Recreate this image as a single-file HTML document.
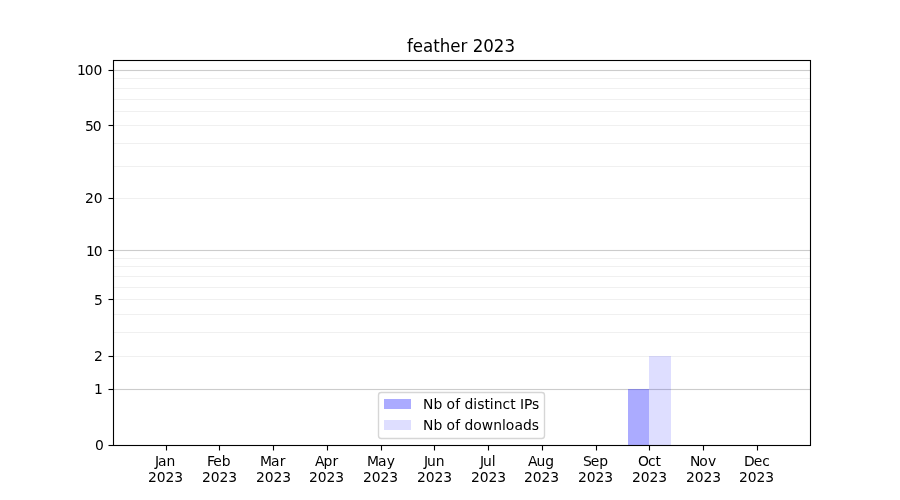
<!DOCTYPE html>
<html lang="en"><head><meta charset="utf-8"><title>feather 2023</title>
<style>
html,body{margin:0;padding:0;background:#fff;}
body{width:900px;height:500px;overflow:hidden;}
svg{display:block;will-change:transform;}
text{font-family:'DejaVu Sans', 'Liberation Sans', sans-serif;fill:#000;}
.t10{font-size:13.889px;}
.t12{font-size:16.667px;}
.crisp{shape-rendering:crispEdges;}
</style></head><body>
<svg width="900" height="500" viewBox="0 0 900 500">
<rect x="0" y="0" width="900" height="500" fill="#ffffff"/>
<g class="crisp">
<rect x="113" y="69" width="697" height="3" fill="#fcfcfc"/>
<rect x="113" y="249" width="697" height="3" fill="#fcfcfc"/>
<rect x="113" y="388" width="697" height="3" fill="#fcfcfc"/>
<rect x="113" y="78" width="697" height="1" fill="#f0f0f0"/>
<rect x="113" y="88" width="697" height="1" fill="#f0f0f0"/>
<rect x="113" y="99" width="697" height="1" fill="#f0f0f0"/>
<rect x="113" y="111" width="697" height="1" fill="#f0f0f0"/>
<rect x="113" y="125" width="697" height="1" fill="#f0f0f0"/>
<rect x="113" y="143" width="697" height="1" fill="#f0f0f0"/>
<rect x="113" y="166" width="697" height="1" fill="#f0f0f0"/>
<rect x="113" y="198" width="697" height="1" fill="#f0f0f0"/>
<rect x="113" y="258" width="697" height="1" fill="#f0f0f0"/>
<rect x="113" y="266" width="697" height="1" fill="#f0f0f0"/>
<rect x="113" y="276" width="697" height="1" fill="#f0f0f0"/>
<rect x="113" y="287" width="697" height="1" fill="#f0f0f0"/>
<rect x="113" y="299" width="697" height="1" fill="#f0f0f0"/>
<rect x="113" y="314" width="697" height="1" fill="#f0f0f0"/>
<rect x="113" y="332" width="697" height="1" fill="#f0f0f0"/>
<rect x="113" y="356" width="697" height="1" fill="#f0f0f0"/>
<rect x="113" y="70" width="697" height="1" fill="#cccccc"/>
<rect x="113" y="250" width="697" height="1" fill="#cccccc"/>
<rect x="113" y="389" width="697" height="1" fill="#cccccc"/>
</g>
<g class="crisp">
<rect x="628" y="389" width="21" height="56" fill="#0000ff" fill-opacity="0.33"/>
<rect x="649" y="356" width="22" height="89" fill="#0000ff" fill-opacity="0.13"/>
</g>
<g class="crisp" fill="#000000">
<rect x="165" y="446" width="3" height="4" fill="#f1f1f1"/>
<rect x="165" y="450" width="3" height="1" fill="#f8f8f8"/>
<rect x="166" y="446" width="1" height="4" fill="#000"/>
<rect x="166" y="450" width="1" height="1" fill="#7f7f7f"/>
<rect x="218" y="446" width="3" height="4" fill="#f1f1f1"/>
<rect x="218" y="450" width="3" height="1" fill="#f8f8f8"/>
<rect x="219" y="446" width="1" height="4" fill="#000"/>
<rect x="219" y="450" width="1" height="1" fill="#7f7f7f"/>
<rect x="272" y="446" width="3" height="4" fill="#f1f1f1"/>
<rect x="272" y="450" width="3" height="1" fill="#f8f8f8"/>
<rect x="273" y="446" width="1" height="4" fill="#000"/>
<rect x="273" y="450" width="1" height="1" fill="#7f7f7f"/>
<rect x="326" y="446" width="3" height="4" fill="#f1f1f1"/>
<rect x="326" y="450" width="3" height="1" fill="#f8f8f8"/>
<rect x="327" y="446" width="1" height="4" fill="#000"/>
<rect x="327" y="450" width="1" height="1" fill="#7f7f7f"/>
<rect x="380" y="446" width="3" height="4" fill="#f1f1f1"/>
<rect x="380" y="450" width="3" height="1" fill="#f8f8f8"/>
<rect x="381" y="446" width="1" height="4" fill="#000"/>
<rect x="381" y="450" width="1" height="1" fill="#7f7f7f"/>
<rect x="433" y="446" width="3" height="4" fill="#f1f1f1"/>
<rect x="433" y="450" width="3" height="1" fill="#f8f8f8"/>
<rect x="434" y="446" width="1" height="4" fill="#000"/>
<rect x="434" y="450" width="1" height="1" fill="#7f7f7f"/>
<rect x="487" y="446" width="3" height="4" fill="#f1f1f1"/>
<rect x="487" y="450" width="3" height="1" fill="#f8f8f8"/>
<rect x="488" y="446" width="1" height="4" fill="#000"/>
<rect x="488" y="450" width="1" height="1" fill="#7f7f7f"/>
<rect x="541" y="446" width="3" height="4" fill="#f1f1f1"/>
<rect x="541" y="450" width="3" height="1" fill="#f8f8f8"/>
<rect x="542" y="446" width="1" height="4" fill="#000"/>
<rect x="542" y="450" width="1" height="1" fill="#7f7f7f"/>
<rect x="595" y="446" width="3" height="4" fill="#f1f1f1"/>
<rect x="595" y="450" width="3" height="1" fill="#f8f8f8"/>
<rect x="596" y="446" width="1" height="4" fill="#000"/>
<rect x="596" y="450" width="1" height="1" fill="#7f7f7f"/>
<rect x="648" y="446" width="3" height="4" fill="#f1f1f1"/>
<rect x="648" y="450" width="3" height="1" fill="#f8f8f8"/>
<rect x="649" y="446" width="1" height="4" fill="#000"/>
<rect x="649" y="450" width="1" height="1" fill="#7f7f7f"/>
<rect x="702" y="446" width="3" height="4" fill="#f1f1f1"/>
<rect x="702" y="450" width="3" height="1" fill="#f8f8f8"/>
<rect x="703" y="446" width="1" height="4" fill="#000"/>
<rect x="703" y="450" width="1" height="1" fill="#7f7f7f"/>
<rect x="756" y="446" width="3" height="4" fill="#f1f1f1"/>
<rect x="756" y="450" width="3" height="1" fill="#f8f8f8"/>
<rect x="757" y="446" width="1" height="4" fill="#000"/>
<rect x="757" y="450" width="1" height="1" fill="#7f7f7f"/>
<rect x="109" y="444" width="4" height="3" fill="#f1f1f1"/>
<rect x="108" y="444" width="1" height="3" fill="#f8f8f8"/>
<rect x="109" y="445" width="4" height="1" fill="#000"/>
<rect x="108" y="445" width="1" height="1" fill="#7f7f7f"/>
<rect x="109" y="388" width="4" height="3" fill="#f1f1f1"/>
<rect x="108" y="388" width="1" height="3" fill="#f8f8f8"/>
<rect x="109" y="389" width="4" height="1" fill="#000"/>
<rect x="108" y="389" width="1" height="1" fill="#7f7f7f"/>
<rect x="109" y="355" width="4" height="3" fill="#f1f1f1"/>
<rect x="108" y="355" width="1" height="3" fill="#f8f8f8"/>
<rect x="109" y="356" width="4" height="1" fill="#000"/>
<rect x="108" y="356" width="1" height="1" fill="#7f7f7f"/>
<rect x="109" y="298" width="4" height="3" fill="#f1f1f1"/>
<rect x="108" y="298" width="1" height="3" fill="#f8f8f8"/>
<rect x="109" y="299" width="4" height="1" fill="#000"/>
<rect x="108" y="299" width="1" height="1" fill="#7f7f7f"/>
<rect x="109" y="249" width="4" height="3" fill="#f1f1f1"/>
<rect x="108" y="249" width="1" height="3" fill="#f8f8f8"/>
<rect x="109" y="250" width="4" height="1" fill="#000"/>
<rect x="108" y="250" width="1" height="1" fill="#7f7f7f"/>
<rect x="109" y="197" width="4" height="3" fill="#f1f1f1"/>
<rect x="108" y="197" width="1" height="3" fill="#f8f8f8"/>
<rect x="109" y="198" width="4" height="1" fill="#000"/>
<rect x="108" y="198" width="1" height="1" fill="#7f7f7f"/>
<rect x="109" y="124" width="4" height="3" fill="#f1f1f1"/>
<rect x="108" y="124" width="1" height="3" fill="#f8f8f8"/>
<rect x="109" y="125" width="4" height="1" fill="#000"/>
<rect x="108" y="125" width="1" height="1" fill="#7f7f7f"/>
<rect x="109" y="69" width="4" height="3" fill="#f1f1f1"/>
<rect x="108" y="69" width="1" height="3" fill="#f8f8f8"/>
<rect x="109" y="70" width="4" height="1" fill="#000"/>
<rect x="108" y="70" width="1" height="1" fill="#7f7f7f"/>
<rect x="112" y="60" width="1" height="386" fill="#000" fill-opacity="0.055"/>
<rect x="114" y="60" width="1" height="386" fill="#000" fill-opacity="0.055"/>
<rect x="809" y="60" width="1" height="386" fill="#000" fill-opacity="0.055"/>
<rect x="811" y="60" width="1" height="386" fill="#000" fill-opacity="0.055"/>
<rect x="113" y="59" width="698" height="1" fill="#000" fill-opacity="0.055"/>
<rect x="113" y="61" width="698" height="1" fill="#000" fill-opacity="0.055"/>
<rect x="113" y="444" width="698" height="1" fill="#000" fill-opacity="0.055"/>
<rect x="113" y="446" width="698" height="1" fill="#000" fill-opacity="0.055"/>
<rect x="113" y="60" width="1" height="386"/>
<rect x="810" y="60" width="1" height="386"/>
<rect x="113" y="60" width="698" height="1"/>
<rect x="113" y="445" width="698" height="1"/>
</g>
<g class="t10">
<text x="155 158 166.5" y="466">Jan</text>
<text x="148 156.75 165.5 174.25" y="482">2023</text>
<text x="207 213.25 221.75" y="466">Feb</text>
<text x="202 210.75 219.5 228.25" y="482">2023</text>
<text x="260 271 279.75" y="466">Mar</text>
<text x="256 264.75 273.5 282.25" y="482">2023</text>
<text x="315 323.5 332.5" y="466">Apr</text>
<text x="309 317.75 326.5 335.25" y="482">2023</text>
<text x="367 378 386.75" y="466">May</text>
<text x="363 371.75 380.5 389.25" y="482">2023</text>
<text x="424 427 435.75" y="466">Jun</text>
<text x="417 425.75 434.5 443.25" y="482">2023</text>
<text x="480 483 491.75" y="466">Jul</text>
<text x="471 479.75 488.5 497.25" y="482">2023</text>
<text x="528 536.5 545.25" y="466">Aug</text>
<text x="524 532.75 541.5 550.25" y="482">2023</text>
<text x="583 590.75 599.25" y="466">Sep</text>
<text x="578 586.75 595.5 604.25" y="482">2023</text>
<text x="638 648 655.5" y="466">Oct</text>
<text x="632 640.75 649.5 658.25" y="482">2023</text>
<text x="690 699.25 708" y="466">Nov</text>
<text x="686 694.75 703.5 712.25" y="482">2023</text>
<text x="744 753.75 762.25" y="466">Dec</text>
<text x="739 747.75 756.5 765.25" y="482">2023</text>
<text x="95" y="450">0</text>
<text x="94" y="394">1</text>
<text x="94" y="361">2</text>
<text x="94" y="305">5</text>
<text x="86 93.75" y="256">10</text>
<text x="85 93.75" y="203">20</text>
<text x="85 92.75" y="131">50</text>
<text x="77 84.75 93.5" y="75">100</text>
</g>
<text font-size="17.4" text-anchor="middle" transform="translate(461,52) scale(0.9579,1)" x="0" y="0">feather 2023</text>
<rect x="378.5" y="392.5" width="166" height="46" rx="2.78" ry="2.78" fill="#ffffff" fill-opacity="0.8" stroke="#cccccc" stroke-opacity="0.8" stroke-width="1.389"/>
<rect class="crisp" x="384" y="399" width="27" height="10" fill="#0000ff" fill-opacity="0.33"/>
<rect class="crisp" x="384" y="420" width="27" height="10" fill="#0000ff" fill-opacity="0.13"/>
<g class="t10">
<text x="423 433.5 442.5 446.5 455.25 460.25 464.5 473.25 477.25 484.5 489.75 493.75 502.5 510.25 515.75 520 524 532" y="409">Nb of distinct IPs</text>
<text x="423 433.5 442.5 446.5 455.25 460.25 464.5 473.25 481.75 493.25 502 505.75 514.5 523 531.75" y="430">Nb of downloads</text>
</g>
</svg>
</body></html>
